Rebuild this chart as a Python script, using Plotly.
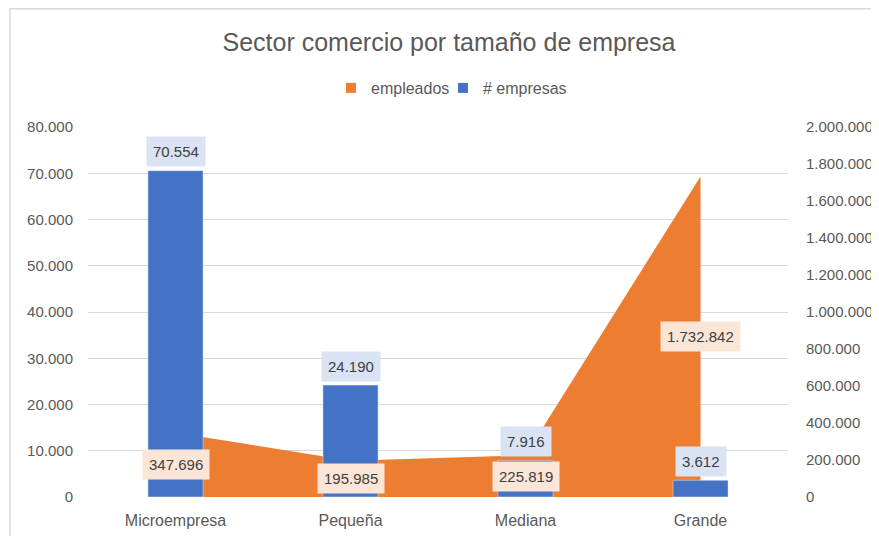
import plotly.graph_objects as go

categories = ["Microempresa", "Pequeña", "Mediana", "Grande"]
empresas = [70554, 24190, 7916, 3612]
empleados = [347696, 195985, 225819, 1732842]

def fmt(v):
    return f"{v:,}".replace(",", ".")

FONT = "Liberation Sans"
GRAY = "#595959"
LBL = "#404040"
ORANGE = "#ED7D31"
BLUE = "#4472C4"

fig = go.Figure()

# Area on base axis 'y' (right side) so the bars (overlaying axis) draw in front
fig.add_trace(go.Scatter(
    x=categories, y=empleados, name="empleados", mode="none",
    fill="tozeroy", fillcolor=ORANGE, yaxis="y", showlegend=False,
))
fig.add_trace(go.Bar(
    x=categories, y=empresas, name="# empresas", marker_color=BLUE,
    width=0.315, yaxis="y2", showlegend=False,
))
# legend entries with small square keys
fig.add_trace(go.Scatter(x=[None], y=[None], name="empleados", mode="markers",
                         marker=dict(symbol="square", size=10, color=ORANGE),
                         legend="legend"))
fig.add_trace(go.Scatter(x=[None], y=[None], name="# empresas", mode="markers",
                         marker=dict(symbol="square", size=10, color=BLUE),
                         legend="legend2"))

for c, v in zip(categories, empresas):
    fig.add_annotation(x=c, y=v, yref="y2", text=fmt(v), showarrow=False,
                       yanchor="middle", yshift=19, bgcolor="#DAE3F3",
                       borderpad=6, font=dict(family=FONT, size=15, color=LBL))
for c, v in zip(categories, empleados):
    fig.add_annotation(x=c, y=v / 2, yref="y", text=fmt(v), showarrow=False,
                       yanchor="middle", bgcolor="#FBE5D6",
                       borderpad=6, font=dict(family=FONT, size=15, color=LBL))

# chart border (left and top)
fig.add_shape(type="line", xref="paper", yref="paper", x0=-0.1114, x1=-0.1114,
              y0=-0.106, y1=1.3216, line=dict(color="#D9D9D9", width=1.5))
fig.add_shape(type="line", xref="paper", yref="paper", x0=-0.1114, x1=1.2,
              y0=1.3196, y1=1.3196, line=dict(color="#D9D9D9", width=1.5))

legend_common = dict(orientation="h", xanchor="left", y=(489 - 80) / 370,
                     yanchor="middle", itemwidth=30, bgcolor="rgba(0,0,0,0)",
                     font=dict(family=FONT, size=16, color=GRAY))

fig.update_layout(
    width=871, height=532,
    margin=dict(l=80, r=91, t=119, b=43, autoexpand=False),
    paper_bgcolor="white", plot_bgcolor="white",
    separators=",.",
    barmode="overlay",
    font=dict(family=FONT, size=15, color=GRAY),
    title=dict(text="Sector comercio por tamaño de empresa", x=(449 - 8) / 871,
               xanchor="center", y=1 - 34 / 532, yanchor="middle",
               font=dict(family=FONT, size=25, color=GRAY)),
    legend=dict(x=(331 - 88) / 700, **legend_common),
    legend2=dict(x=(443 - 88) / 700, **legend_common),
    xaxis=dict(type="category", range=[-0.5, 3.5], showgrid=False, showline=False,
               zeroline=False, ticks="", ticklabelstandoff=12, automargin=False,
               tickfont=dict(family=FONT, size=16, color=GRAY)),
    yaxis=dict(side="right", range=[0, 2000000], dtick=200000, tickformat=",d",
               showgrid=False, zeroline=False, automargin=False,
               showline=False, ticklabelstandoff=17,
               tickfont=dict(family=FONT, size=15, color=GRAY)),
    yaxis2=dict(side="left", overlaying="y", range=[0, 80000], dtick=10000,
                tickformat=",d", showgrid=True, gridcolor="#D9D9D9", gridwidth=1.3,
                zeroline=False, showline=False, ticklabelstandoff=14, automargin=False,
                tickfont=dict(family=FONT, size=15, color=GRAY)),
)

fig.write_html("out.html")
